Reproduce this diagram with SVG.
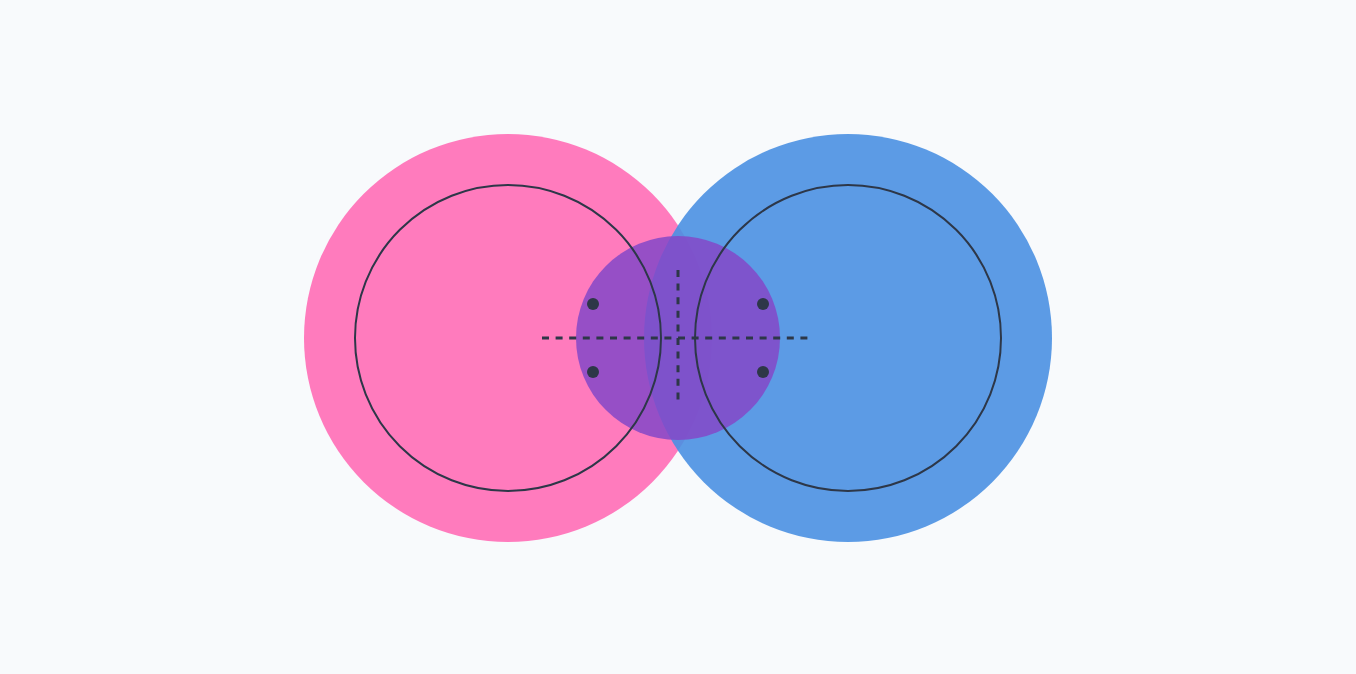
<svg xmlns="http://www.w3.org/2000/svg" width="1356" height="674" viewBox="0 0 1356 674">
<style>
.ring{fill:none;stroke:#2d3748;stroke-width:2}
.dash{stroke:#2d3748;stroke-width:3;stroke-dasharray:7 6.6;fill:none}
.dot{fill:#2d3748}
</style>
<rect width="1356" height="674" fill="#f8fafc"/>
<g id="left">
<circle cx="508" cy="338" r="204" fill="#ff7bbd"/>
</g>
<g id="right">
<circle cx="848" cy="338" r="204" fill="#4a90e2" fill-opacity="0.9"/>
</g>
<g id="center">
<circle cx="678" cy="338" r="102" fill="#8448c8" fill-opacity="0.85"/>
</g>
<g id="rings">
<circle class="ring" cx="508" cy="338" r="153"/>
<circle class="ring" cx="848" cy="338" r="153"/>
</g>
<g id="connectors">
<line class="dash" x1="542" y1="338" x2="808" y2="338"/>
<line class="dash" x1="678" y1="270" x2="678" y2="399.5"/>
</g>
<g id="dots">
<circle class="dot" cx="593" cy="304" r="6"/>
<circle class="dot" cx="763" cy="304" r="6"/>
<circle class="dot" cx="593" cy="372" r="6"/>
<circle class="dot" cx="763" cy="372" r="6"/>
</g>
</svg>
